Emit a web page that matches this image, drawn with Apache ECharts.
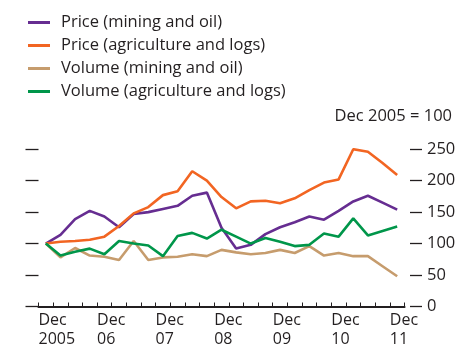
<!DOCTYPE html>
<html>
<head>
<meta charset="utf-8">
<script src="https://cdn.jsdelivr.net/npm/echarts@6/dist/echarts.min.js"></script>
<style>
  html, body { margin: 0; padding: 0; background: #fff; }
  #chart { width: 466px; height: 352px; }
</style>
</head>
<body>
<div id="chart"></div>
<script>
// Quarterly index values, Dec 2005 = 100
const quarters = [
  'Dec 2005', 'Mar 2006', 'Jun 2006', 'Sep 2006', 'Dec 2006',
  'Mar 2007', 'Jun 2007', 'Sep 2007', 'Dec 2007',
  'Mar 2008', 'Jun 2008', 'Sep 2008', 'Dec 2008',
  'Mar 2009', 'Jun 2009', 'Sep 2009', 'Dec 2009',
  'Mar 2010', 'Jun 2010', 'Sep 2010', 'Dec 2010',
  'Mar 2011', 'Jun 2011', 'Sep 2011', 'Dec 2011'
];
const tickLabels = ['Dec\n2005', 'Dec\n06', 'Dec\n07', 'Dec\n08', 'Dec\n09', 'Dec\n10', 'Dec\n11'];

const priceMining = [100, 114, 139, 152, 143, 126, 147, 150, 155, 160, 176, 181, 125,
  92, 98, 115, 126, 134, 143, 138, 152, 167, 176, 165, 154];
const priceAgri = [100, 103, 104, 106, 111, 128, 148, 158, 177, 183, 215, 200, 174,
  156, 167, 168, 164, 172, 185, 197, 202, 250, 246, 228, 209];
const volumeMining = [100, 78, 93, 81, 79, 74, 104, 74, 78, 79, 83, 80, 90,
  86, 83, 85, 90, 85, 96, 81, 85, 80, 80, 64, 48];
const volumeAgri = [100, 81, 87, 92, 83, 104, 100, 97, 80, 112, 117, 108, 122,
  111, 100, 109, 103, 96, 98, 116, 111, 140, 113, 120, 127];

const seriesNames = [
  'Price (mining and oil)',
  'Price (agriculture and logs)',
  'Volume (mining and oil)',
  'Volume (agriculture and logs)'
];
const seriesColors = ['#662d91', '#f26522', '#c69c6d', '#00964a'];
const yTicks = [0, 50, 100, 150, 200, 250];

const FONT = 'Open Sans';
const INK = '#231f20';

// each quarter sits in the middle of its own band on the x scale
function toPoints(values) {
  return values.map((v, i) => [i + 0.5, v]);
}

const chart = echarts.init(document.getElementById('chart'), null, { renderer: 'canvas' });

const valueSets = [priceMining, priceAgri, volumeMining, volumeAgri];

chart.setOption({
  animation: false,
  grid: { left: 38.5, right: 61.5, top: 149.2, bottom: 45.5 },
  legend: {
    orient: 'vertical',
    left: 23,
    top: 9,
    icon: 'rect',
    itemWidth: 22,
    itemHeight: 3,
    itemGap: 6,
    data: seriesNames,
    textStyle: { fontFamily: FONT, fontSize: 16.5, color: INK, lineHeight: 16, padding: [0, 0, 0, 6] }
  },
  graphic: [
    {
      type: 'text',
      right: 14,
      top: 108,
      style: { text: 'Dec 2005 = 100', font: '16.5px "' + FONT + '"', fill: INK }
    }
  ],
  xAxis: [{
    type: 'value',
    min: 0,
    max: quarters.length,
    interval: 1,
    splitLine: { show: false },
    axisLine: { show: true, onZero: false, lineStyle: { color: INK, width: 2.2 } },
    axisTick: { show: true, inside: true, length: 4, lineStyle: { color: INK, width: 1 } },
    axisLabel: {
      align: 'left',
      margin: 4,
      fontFamily: FONT,
      fontSize: 16,
      lineHeight: 19,
      color: INK,
      formatter: function (v) {
        return (v % 4 === 0 && v / 4 < tickLabels.length) ? tickLabels[v / 4] : '';
      }
    }
  }],
  yAxis: [
    {
      type: 'value',
      position: 'left',
      min: 0,
      max: 250,
      interval: 50,
      offset: 6.5,
      splitLine: { show: false },
      axisLine: { show: false },
      axisTick: { show: true, length: 13, lineStyle: { color: INK, width: 1.3 } },
      axisLabel: { show: false }
    },
    {
      type: 'value',
      position: 'right',
      min: 0,
      max: 250,
      interval: 50,
      offset: 5.5,
      splitLine: { show: false },
      axisLine: { show: false },
      axisTick: { show: true, length: 12, lineStyle: { color: INK, width: 1.3 } },
      axisLabel: {
        show: true,
        margin: 17,
        fontFamily: FONT,
        fontSize: 16.5,
        color: INK,
        formatter: function (v) { return yTicks.indexOf(v) >= 0 ? String(v) : ''; }
      }
    }
  ],
  series: valueSets.map((vals, k) => ({
    name: seriesNames[k],
    type: 'line',
    yAxisIndex: 1,
    data: toPoints(vals),
    showSymbol: false,
    symbol: 'none',
    color: seriesColors[k],
    lineStyle: { color: seriesColors[k], width: 2.6 },
    z: k === 2 ? 2 : 3
  }))
});
</script>
</body>
</html>
